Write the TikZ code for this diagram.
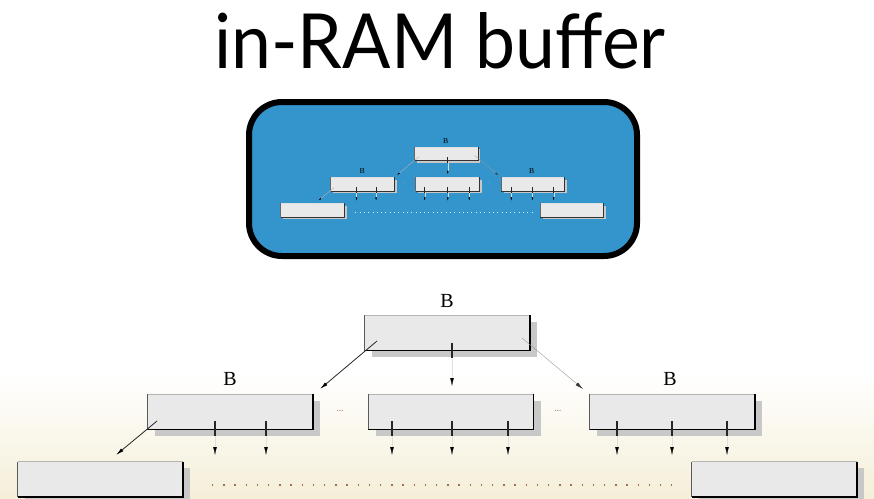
\documentclass[tikz,border=0pt]{standalone}
\usepackage{fontspec}
\newfontfamily\titlefont{Lato}
\newfontfamily\labelfont{Liberation Serif}
\usetikzlibrary{arrows.meta,shadows}
\definecolor{boxfill}{HTML}{E9E9E9}
\definecolor{shadowc}{HTML}{C8C8C8}
\definecolor{topedgec}{HTML}{B5B5B5}
\definecolor{leftedgec}{HTML}{5A5A5A}
\definecolor{blueback}{HTML}{3494CC}
\definecolor{cream}{HTML}{F5EFD9}
\definecolor{dotc}{HTML}{A07050}
\tikzset{
  tbox/.style={minimum width=165pt, minimum height=35pt, inner sep=0pt, fill=boxfill,
    general shadow={fill=shadowc, shadow xshift=\shx, shadow yshift=\shy}},
  etop/.style={draw=topedgec, line width=1.2pt},
  eleft/.style={draw=leftedgec, line width=1.3pt},
  ebot/.style={draw=black, line width=1.5pt},
  blabel/.style={font=\labelfont\fontsize{20}{20}\selectfont, inner sep=0pt},
  dotsl/.style={font=\fontsize{12}{12}\selectfont, text=dotc, inner sep=0pt},
  dotline/.style={draw=dotc, line width=1.3pt, dash pattern=on 1.3pt off 9.9pt},
  tickl/.style={draw=black!85, line width=1.4pt},
  faint/.style={draw=black!12, line width=0.3pt, -{Latex[length=\al, width=\aw, color=black]}},
  ptr/.style={draw=black!85, line width=0.8pt, -{Latex[length=\al, width=\aw, color=black]}},
  ptrl/.style={draw=black!40, line width=0.4pt, -{Latex[length=\al, width=\aw, color=black!80]}},
}
\newcommand\shx{7pt}
\newcommand\shy{-6pt}
\newcommand\al{8pt}
\newcommand\aw{3.6pt}
\newcommand\boxedges[1]{%
  \draw[etop] (#1.north west) -- (#1.north east);
  \draw[eleft] (#1.north west) -- (#1.south west);
  \draw[ebot] (#1.south west) -- (#1.south east) -- (#1.north east);
}
\newcommand\downptr[4]{% name, x, ytop, ytip
  \coordinate (#1-a) at (#2,#3);
  \coordinate (#1-b) at (#2,#3+15);
  \coordinate (#1-c) at (#2,#4);
  \draw[tickl] (#1-a) -- (#1-b);
  \draw[faint] (#1-b) -- (#1-c);
}
\newcommand\drawtree{%
  \node[tbox] (root) at (447.5,333) {};
  \node[tbox] (la) at (230.5,412) {};
  \node[tbox] (lb) at (451,412) {};
  \node[tbox] (lc) at (672.5,412) {};
  \node[tbox] (fa) at (100.5,479.5) {};
  \node[tbox] (fb) at (774.5,479.5) {};
  \boxedges{root}\boxedges{la}\boxedges{lb}\boxedges{lc}\boxedges{fa}\boxedges{fb}
  \node[blabel] (broot) at (447,301) {B};
  \node[blabel] (bla) at (230,379) {B};
  \node[blabel] (blc) at (670,379) {B};
  \node[dotsl] (d1) at (340,411) {\dots};
  \node[dotsl] (d2) at (558,411) {\dots};
  \coordinate (dl1) at (212,485);
  \coordinate (dl2) at (672,485);
  \draw[dotline] (dl1) -- (dl2);
  \coordinate (r1s) at (377,341);
  \coordinate (r1e) at (320,389);
  \draw[ptr] (r1s) -- (r1e);
  \coordinate (r2s) at (522,338);
  \coordinate (r2e) at (583,389);
  \draw[ptrl] (r2s) -- (r2e);
  \downptr{rm}{452}{343}{386}
  \coordinate (las) at (157,421);
  \coordinate (lae) at (116,455);
  \draw[ptr] (las) -- (lae);
  \downptr{la1}{215}{421}{455}
  \downptr{la2}{266}{421}{455}
  \downptr{lb1}{392}{421}{455}
  \downptr{lb2}{452}{421}{455}
  \downptr{lb3}{508}{421}{455}
  \downptr{lc1}{617}{421}{455}
  \downptr{lc2}{672}{421}{455}
  \downptr{lc3}{727}{421}{455}
}
\begin{document}
\begin{tikzpicture}[x=1pt,y=-1pt]
  \useasboundingbox (0,0) rectangle (874,498);
  \fill[white] (0,0) rectangle (874,498);
  \shade[top color=white, bottom color=cream] (0,372) rectangle (874,498);
  \node[anchor=base, inner sep=0pt, font=\titlefont\fontsize{76}{76}\selectfont] (title) at (440,68) {\scalebox{0.94}[1]{in-RAM buffer}};
  \draw[line width=6pt, fill=blueback, rounded corners=33pt] (249,102) rectangle (637,256);
  \begin{scope}[shift={(273.7,25.4)}, scale=0.385, transform shape, name prefix=s-,
      etop/.style={draw=white!75!gray, line width=0.5pt},
      eleft/.style={draw=black!60, line width=0.5pt},
      ebot/.style={draw=black!80, line width=0.6pt},
      tickl/.style={draw=black!85, line width=0.6pt},
      faint/.style={draw=black!15, line width=0.2pt, -{Latex[length=\al, width=\aw, color=black]}},
      ptr/.style={draw=white!70!black, line width=0.4pt, -{Latex[length=\al, width=\aw, color=black]}},
      ptrl/.style={draw=white!60!black, line width=0.3pt, -{Latex[length=\al, width=\aw, color=black!80]}},
      dotsl/.style={font=\fontsize{12}{12}\selectfont, text=white!85!blueback, inner sep=0pt},
      dotline/.style={draw=white!85!blueback, line width=0.6pt, dash pattern=on 0.6pt off 3.7pt}]
    \renewcommand\shx{2.7pt}\renewcommand\shy{-2.4pt}
    \renewcommand\al{3.2pt}\renewcommand\aw{1.5pt}
    \drawtree
  \end{scope}
  \drawtree
\end{tikzpicture}
\end{document}
